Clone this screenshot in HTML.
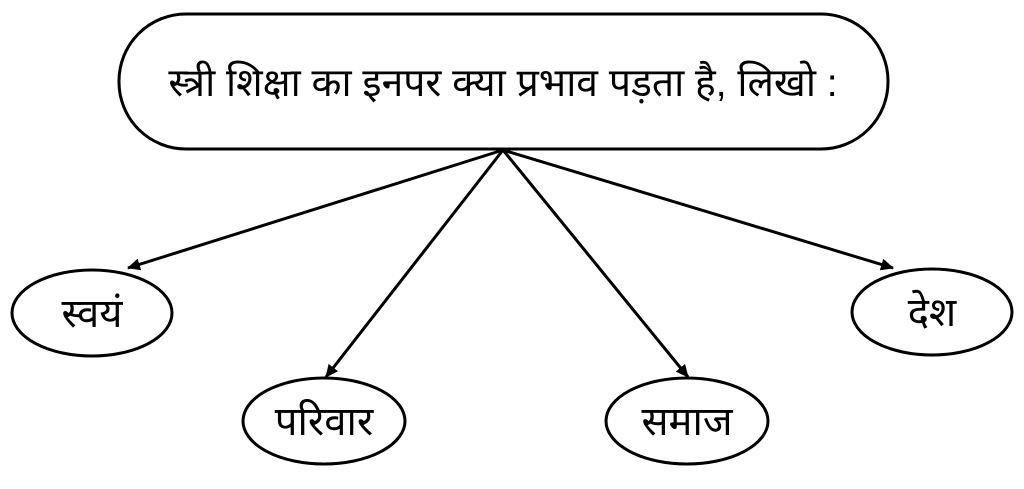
<!DOCTYPE html>
<html><head><meta charset="utf-8"><style>
html,body{margin:0;padding:0;background:#fff;}
svg text{font-family:"Liberation Sans","Noto Sans Devanagari","Lohit Devanagari",sans-serif;fill:#000;}
</style></head><body>
<svg width="1024" height="484" viewBox="0 0 1024 484" xmlns="http://www.w3.org/2000/svg">
<defs><marker id="a" markerWidth="13" markerHeight="12" refX="12" refY="6" orient="auto" markerUnits="userSpaceOnUse"><path d="M0,0 L13,6 L0,12 Z" fill="#000"/></marker></defs>
<rect x="119" y="14" width="769" height="135" rx="67" ry="67" fill="#fff" stroke="#000" stroke-width="3"/>
<text x="503" y="96" font-size="39" text-anchor="middle">स्त्री शिक्षा का इनपर क्या प्रभाव पड़ता है, लिखो :</text>
<g stroke="#000" stroke-width="3" marker-end="url(#a)">
<line x1="503" y1="150" x2="128" y2="268"/>
<line x1="503" y1="150" x2="326" y2="377"/>
<line x1="503" y1="150" x2="688" y2="377"/>
<line x1="503" y1="150" x2="893" y2="268"/>
</g>
<g fill="#fff" stroke="#000" stroke-width="3">
<ellipse cx="92" cy="313" rx="80" ry="43"/>
<ellipse cx="324" cy="421" rx="81" ry="43"/>
<ellipse cx="687" cy="421" rx="81" ry="43"/>
<ellipse cx="932" cy="312" rx="80" ry="43"/>
</g>
<g font-size="40" text-anchor="middle">
<text x="92" y="327">स्वयं</text>
<text x="324" y="435">परिवार</text>
<text x="687" y="435">समाज</text>
<text x="932" y="326">देश</text>
</g>
</svg>
</body></html>
